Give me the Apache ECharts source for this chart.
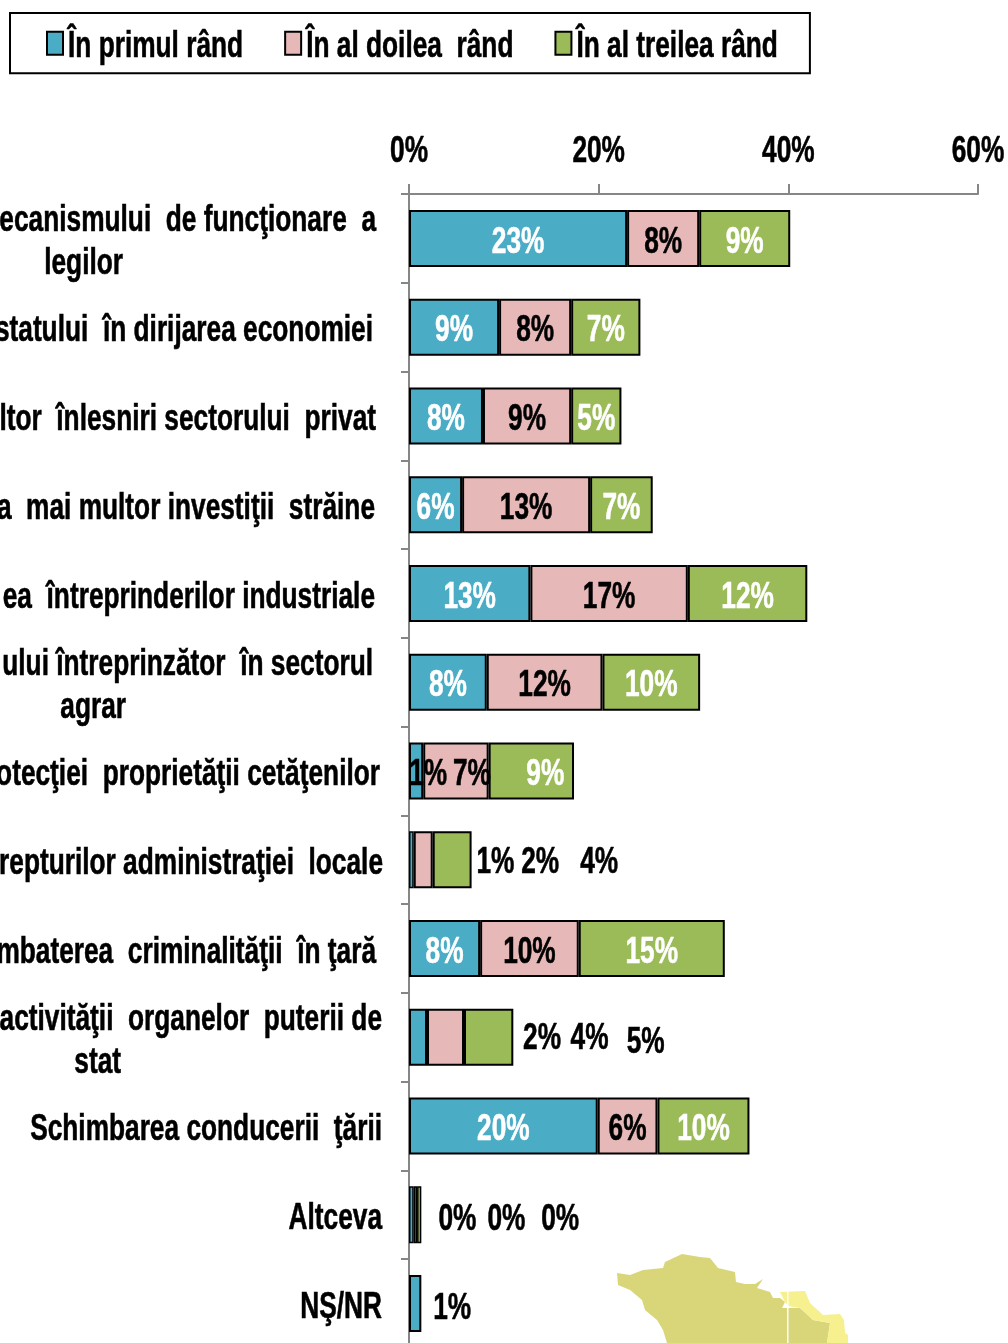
<!DOCTYPE html>
<html>
<head>
<meta charset="utf-8">
<style>html,body{margin:0;padding:0;background:#fff}#chart{width:1008px;height:1343px}</style>
<script src="https://cdn.jsdelivr.net/npm/echarts@6/dist/echarts.min.js"></script>
</head>
<body>
<div id="chart"></div>
<script>
var categories = [
    "ecanismului  de funcţionare  a\nlegilor",
    "statului  în dirijarea economiei",
    "ltor  înlesniri sectorului  privat",
    "a  mai multor investiţii  străine",
    "ea  întreprinderilor industriale",
    "ului întreprinzător  în sectorul\nagrar",
    "otecţiei  proprietăţii cetăţenilor",
    "repturilor administraţiei  locale",
    "mbaterea  criminalităţii  în ţară",
    "activităţii  organelor  puterii de\nstat",
    "Schimbarea conducerii  ţării",
    "Altceva",
    "NŞ/NR"
];
var seriesNames = ["În primul rând", "În al doilea  rând", "În al treilea rând"];
var first  = [23, 9.5, 7.8, 5.6, 12.8, 8.2, 1.5, 0.5, 7.5, 1.9, 19.9, 0.5, 1.3];
var second = [7.6, 7.6, 9.3, 13.5, 16.6, 12.2, 6.9, 2, 10.4, 3.9, 6.3, 0.35, null];
var third  = [9.6, 7.3, 5.3, 6.6, 12.6, 10.3, 9, 4.1, 15.4, 5.2, 9.7, 0.45, null];
var firstLabels  = ["23%","9%","8%","6%","13%","8%","1%","1%","8%","2%","20%","0%","1%"];
var secondLabels = ["8%","8%","9%","13%","17%","12%","7%","2%","10%","4%","6%","0%",""];
var thirdLabels  = ["9%","7%","5%","7%","12%","10%","9%","4%","15%","5%","10%","0%",""];
var xTicks = [0, 20, 40, 60];

// colours and label tweaks, not data
var colors = ["#4BACC6", "#E6B9B8", "#9BBB59"];
var labelColors = ["#fff", "#000", "#fff"];
var FONT = '"Liberation Sans", sans-serif';
var FS = 37;
var SQUEEZE = 0.71;  // the source text is squashed sideways, no narrow face is installed
// row -> [dx,dy] per series, for labels pushed out of their segment
var shifts = {
    6:  [[12, 0], [16, 0], [14, 0]],
    7:  [[84, -1], [117, -1], [147, -1]],
    9:  [[124, -3], [144, -3], [157, 1]],
    11: [[46, 1], [91, 1], [141, 1]],
    12: [[37, 1]]
};
var lineEnd = [376, 373, 376, 375, 375, 373, 380, 383, 376, 382, 382, 382, 382];
var secondEnd = {0: 123, 5: 126, 9: 121};

// squeeze all chart text horizontally, and thicken it a little
var proto = CanvasRenderingContext2D.prototype;
var origFill = proto.fillText, origStroke = proto.strokeText, origMeasure = proto.measureText;
proto.fillText = function (t, x, y) {
    this.save();
    this.translate(x, y + 4);
    this.scale(SQUEEZE, 1);
    origFill.call(this, t, 0, 0);
    this.strokeStyle = this.fillStyle;
    this.lineWidth = 0.6;
    origStroke.call(this, t, 0, 0);
    this.restore();
};
proto.measureText = function (t) {
    return {width: origMeasure.call(this, t).width * SQUEEZE};
};

function buildSeries(idx, values, labels) {
    return {
        name: seriesNames[idx],
        type: "bar",
        stack: "total",
        barWidth: 57,
        itemStyle: {color: colors[idx], borderColor: "#000", borderWidth: 2},
        data: values.map(function (v, i) {
            var s = shifts[i] && shifts[i][idx];
            var out = s && s[0] > 30;
            return {
                value: v,
                itemStyle: v < 1 ? {borderWidth: 1.5} : {},
                label: {
                    show: !!labels[i],
                    formatter: labels[i],
                    position: "inside",
                    offset: s || [0, 0],
                    color: (out || i == 6 && idx == 0) ? "#000" : labelColors[idx],
                    fontFamily: FONT, fontWeight: "bold", fontSize: FS
                }
            };
        })
    };
}

var rich = {};
function catStyle(name) {
    if (!rich[name]) {
        rich[name] = {
            fontFamily: FONT, fontWeight: "bold", fontSize: FS, color: "#000", lineHeight: 43,
            padding: [0, parseInt(name.slice(1)), 0, 0]
        };
    }
    return name;
}

// pre-register the styles the formatter will use
var catLabels = categories.map(function (c, i) {
    var p = c.split("\n");
    var out = "{" + catStyle("p" + (383 - lineEnd[i])) + "|" + p[0] + "}";
    if (p[1]) out += "\n{" + catStyle("p" + (383 - secondEnd[i])) + "|" + p[1] + "}";
    return out;
});

var chart = echarts.init(document.getElementById("chart"), null, {renderer: "canvas"});
chart.setOption({
    animation: false,
    backgroundColor: "#fff",
    legend: {
        left: 10, top: 13,
        padding: [17, 32, 17, 36],
        itemGap: 41,
        itemWidth: 16, itemHeight: 23,
        icon: "rect",
        borderColor: "#000", borderWidth: 2,
        backgroundColor: "#fff",
        textStyle: {fontFamily: FONT, fontWeight: "bold", fontSize: FS, color: "#000"},
        data: seriesNames
    },
    grid: {left: 409, top: 194, width: 569, height: 1154, outerBoundsMode: "none"},
    xAxis: {
        type: "value", position: "top", min: 0, max: 60, interval: 20,
        axisLine: {show: true, lineStyle: {color: "#868686", width: 2}},
        axisTick: {show: true, length: 10, lineStyle: {color: "#868686", width: 2}},
        axisLabel: {
            margin: 33, color: "#000", fontFamily: FONT, fontWeight: "bold", fontSize: FS,
            formatter: function (v) { return xTicks.indexOf(v) >= 0 ? v + "%" : ""; }
        },
        splitLine: {show: false}
    },
    yAxis: {
        type: "category", inverse: true, data: categories,
        axisLine: {show: true, lineStyle: {color: "#868686", width: 2}},
        axisTick: {show: true, length: 8, lineStyle: {color: "#868686", width: 2}},
        axisLabel: {
            interval: 0, margin: 26, rich: rich,
            formatter: function (v, i) { return catLabels[i]; }
        }
    },
    series: [
        buildSeries(0, first, firstLabels),
        buildSeries(1, second, secondLabels),
        buildSeries(2, third, thirdLabels)
    ],
    // the map picture behind the bottom right corner
    graphic: [
        {type: "polygon", silent: true, z: -1, shape: {points: [
            [617,1273],[630,1275],[643,1270],[663,1268],[665,1262],[682,1254],[700,1257],[710,1258],[718,1268],[735,1272],[736,1282],[745,1284],[755,1284],[763,1279],[757,1288],[770,1292],[773,1298],[780,1298],[785,1302],[782,1308],[800,1308],[813,1320],[830,1323],[827,1343],[667,1343],[663,1330],[657,1320],[645,1310],[642,1300],[630,1290],[618,1285]
        ]}, style: {fill: "#D9D67A"}},
        {type: "polygon", silent: true, z: -1, shape: {points: [
            [780,1292],[805,1291],[810,1303],[823,1315],[840,1314],[844,1320],[845,1333],[848,1335],[848,1343],[827,1343],[830,1323],[813,1320],[800,1308],[788,1306],[785,1302]
        ]}, style: {fill: "#F6F08F"}},
        {type: "rect", silent: true, z: -1, shape: {x: 787, y: 1290, width: 1.5, height: 53}, style: {fill: "#fff"}}
    ]
});
</script>
</body>
</html>
